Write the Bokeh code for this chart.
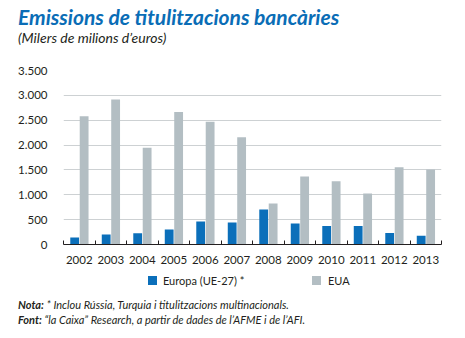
from bokeh.plotting import figure
from bokeh.layouts import column
from bokeh.models import (Range1d, FixedTicker, ColumnDataSource, Div)
from bokeh.embed import file_html
from bokeh.resources import INLINE

years = ["2002", "2003", "2004", "2005", "2006", "2007", "2008", "2009", "2010", "2011", "2012", "2013"]
europa = [140, 200, 225, 300, 465, 445, 705, 420, 370, 370, 230, 175]
eua = [2580, 2915, 1945, 2665, 2470, 2155, 825, 1370, 1270, 1025, 1555, 1510]
y_ticks = [0, 500, 1000, 1500, 2000, 2500, 3000, 3500]
y_labels = ["0", "500", "1.000", "1.500", "2.000", "2.500", "3.000", "3.500"]
series_names = ["Europa (UE-27) *", "EUA"]

title = "Emissions de titulitzacions bancàries"
subtitle = "(Milers de milions d’euros)"
nota_b = "Nota:"
nota_t = "* Inclou Rússia, Turquia i titulitzacions multinacionals."
font_b = "Font:"
font_t = "“la Caixa” Research, a partir de dades de l’AFME i de l’AFI."

BLUE = "#0b6fba"
GRAY = "#b3bec3"
TXT = "#231f20"
TITLE_C = "#0a6db6"
FONT = "Lato"
W = 465

TOP_H = 50      # header strip
CHART_H = 222   # chart strip (frame 70..244 in page pixels)
BOT_H = 66      # legend + notes strip


def span(left, baseline, size, html, style=""):
    top = baseline - 0.887 * size
    return (f'<div style="position:absolute;left:{left}px;top:{top:.1f}px;'
            f'font-family:{FONT};font-size:{size}px;line-height:{size}px;'
            f'white-space:nowrap;color:{TXT};{style}">{html}</div>')


def box(left, top, size, color):
    return (f'<div style="position:absolute;left:{left}px;top:{top}px;'
            f'width:{size}px;height:{size}px;background:{color};"></div>')


def strip(h, inner):
    return Div(text=f'<div style="position:relative;width:{W}px;height:{h}px;'
                    f'background:white;overflow:hidden;">{inner}</div>',
               width=W, height=h, margin=0)


# ---- header
head = strip(TOP_H,
             span(18, 24.5, 21, title, f"font-weight:bold;font-style:italic;color:{TITLE_C};")
             + span(18, 43.5, 14, subtitle, "font-style:italic;"))

# ---- chart
idx = list(range(len(years)))
src = ColumnDataSource(dict(
    xb=[i + 0.355 for i in idx],
    xg=[i + 0.655 for i in idx],
    europa=europa, eua=eua))

p = figure(width=W, height=CHART_H, output_backend="svg", toolbar_location=None,
           x_range=Range1d(0, len(years)), y_range=Range1d(0, 3500),
           min_border_left=63, min_border_right=24, min_border_top=20,
           min_border_bottom=28, margin=0)
p.outline_line_color = None
p.background_fill_color = "white"
p.border_fill_color = "white"

p.vbar(x="xb", top="europa", bottom=0, width=0.28, source=src,
       fill_color=BLUE, line_color=None)
p.vbar(x="xg", top="eua", bottom=0, width=0.28, source=src,
       fill_color=GRAY, line_color=None)

xa = p.xaxis[0]
xa.ticker = FixedTicker(ticks=[i + 0.5 for i in idx], minor_ticks=list(range(len(years) + 1)))
xa.major_label_overrides = {i + 0.5: y for i, y in zip(idx, years)}
xa.major_tick_in = 0
xa.major_tick_out = 0
xa.minor_tick_in = 4
xa.minor_tick_out = 0
xa.minor_tick_line_color = TXT
xa.axis_line_color = TXT
xa.axis_line_width = 1
xa.major_label_standoff = 11
xa.major_label_text_font = FONT
xa.major_label_text_font_size = "11.5px"
xa.major_label_text_color = TXT

ya = p.yaxis[0]
ya.ticker = FixedTicker(ticks=y_ticks)
ya.major_label_overrides = {t: l for t, l in zip(y_ticks, y_labels)}
ya.axis_line_color = None
ya.major_tick_line_color = None
ya.minor_tick_line_color = None
ya.major_label_standoff = 10
ya.major_label_text_font = FONT
ya.major_label_text_font_size = "11.5px"
ya.major_label_text_color = TXT

p.xgrid.visible = False
p.ygrid.ticker = FixedTicker(ticks=y_ticks)
p.ygrid.grid_line_color = "#cdd1d3"
p.ygrid.grid_line_width = 1

# ---- legend + notes (page y of this strip starts at 272)
OFF = TOP_H + CHART_H
foot = strip(BOT_H,
             box(148, 276 - OFF, 9, BLUE)
             + span(163, 285 - OFF, 11, series_names[0])
             + box(312, 276 - OFF, 9, GRAY)
             + span(328, 285 - OFF, 11, series_names[1])
             + span(18, 309 - OFF, 11, f"<b>{nota_b}</b> {nota_t}", "font-style:italic;")
             + span(18, 324 - OFF, 11, f"<b>{font_b}</b> {font_t}", "font-style:italic;"))

layout = column(head, p, foot, spacing=0, margin=0)
open("out.html", "w").write(file_html(layout, INLINE))
